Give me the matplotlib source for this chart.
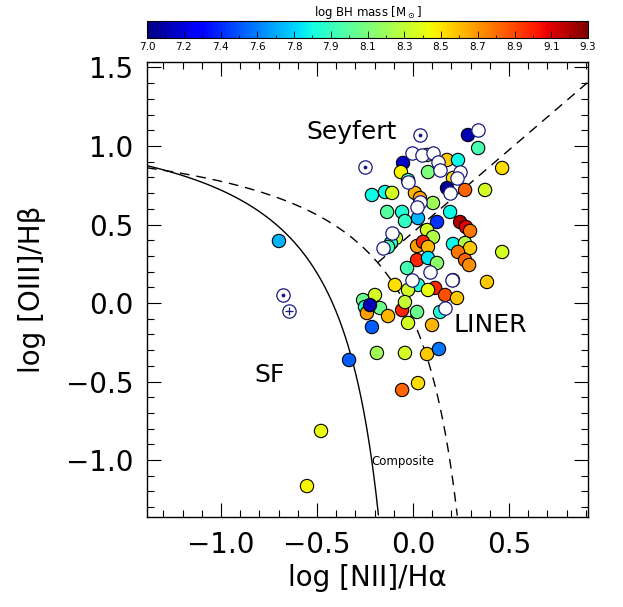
import numpy as np
import matplotlib
matplotlib.use("Agg")
import matplotlib.pyplot as plt
from matplotlib.ticker import MultipleLocator

# ---------------- data ----------------
# filled points: log [NII]/Ha, log [OIII]/Hb, log BH mass
fx = [-0.698, -0.333, -0.479, -0.552, 0.286, 0.339, 0.177, 0.234, 0.073, -0.052,
      -0.063, 0.078, 0.208, 0.464, 0.177, 0.271, 0.375, -0.026, -0.146, -0.214,
      -0.109, 0.010, 0.036, 0.104, -0.135, -0.057, -0.042, 0.026, 0.125, 0.193,
      0.245, 0.276, 0.297, 0.073, 0.104, -0.089, -0.115, -0.130, 0.021, 0.052,
      0.078, 0.208, 0.271, 0.297, 0.234, 0.464, 0.021, 0.078, 0.125, -0.031,
      0.271, 0.292, 0.385, -0.094, 0.026, -0.026, 0.115, 0.078, 0.208, 0.167,
      0.229, -0.260, -0.198, -0.250, -0.240, -0.172, -0.057, 0.021, -0.042, 0.141,
      -0.130, -0.214, -0.026, 0.099, -0.188, -0.042, 0.073, 0.135, -0.057, 0.026,
      -0.224]
fy = [0.395, -0.363, -0.815, -1.166, 1.070, 0.987, 0.911, 0.911, 0.943, 0.892,
      0.834, 0.834, 0.796, 0.860, 0.732, 0.720, 0.720, 0.783, 0.707, 0.688,
      0.701, 0.701, 0.669, 0.637, 0.580, 0.580, 0.522, 0.541, 0.516, 0.580,
      0.516, 0.484, 0.459, 0.465, 0.420, 0.414, 0.382, 0.357, 0.363, 0.389,
      0.357, 0.376, 0.382, 0.350, 0.325, 0.325, 0.274, 0.287, 0.255, 0.223,
      0.274, 0.242, 0.134, 0.115, 0.115, 0.083, 0.096, 0.083, 0.146, 0.051,
      0.032, 0.019, 0.051, -0.025, -0.064, -0.032, -0.045, -0.057, 0.006, -0.057,
      -0.083, -0.153, -0.127, -0.140, -0.318, -0.318, -0.325, -0.293, -0.554, -0.510,
      -0.013]
fm = [7.70, 7.50, 8.45, 8.50, 7.10, 8.00, 8.60, 7.85, 8.25, 7.15,
      8.50, 8.15, 8.55, 8.55, 7.05, 8.85, 8.40, 8.00, 7.85, 7.85,
      8.40, 8.65, 8.70, 8.25, 8.05, 7.90, 7.95, 7.70, 7.40, 7.85,
      9.20, 9.10, 8.80, 8.40, 8.30, 8.35, 7.90, 8.00, 8.70, 9.00,
      8.65, 7.85, 8.30, 8.60, 8.80, 8.40, 9.00, 7.80, 8.20, 8.00,
      8.85, 8.75, 8.60, 8.55, 7.90, 8.40, 9.00, 8.45, 8.40, 8.90,
      8.60, 8.10, 8.40, 7.90, 8.70, 8.10, 9.00, 8.10, 8.35, 7.90,
      8.65, 7.50, 8.40, 8.65, 8.25, 8.40, 8.60, 7.55, 8.85, 8.55,
      7.10]

# open circles (no BH mass)
ox = [0.339, -0.005, 0.047, 0.104, 0.130, 0.141, 0.245, 0.229, -0.026, 0.193,
      0.036, 0.021, -0.109, -0.156, 0.089, -0.005, 0.203, 0.167]
oy = [1.102, 0.955, 0.943, 0.955, 0.898, 0.847, 0.834, 0.796, 0.771, 0.701,
      0.643, 0.611, 0.446, 0.350, 0.197, 0.146, 0.146, -0.032]

# circles with a central dot, and one with a cross
dx = [0.036, -0.250, -0.677]
dy = [1.070, 0.866, 0.051]
px_ = [-0.646]
py_ = [-0.051]

cb_ticks = list(np.linspace(7.0, 9.3, 13))
cb_labels = ["7.0", "7.2", "7.4", "7.6", "7.8", "7.9", "8.1", "8.3", "8.5",
             "8.7", "8.9", "9.1", "9.3"]

# ---------------- figure ----------------
plt.rcParams['font.family'] = ['DejaVu Sans']
fig = plt.figure(figsize=(6.23, 6.07), dpi=100)
ax = fig.add_axes([147/623, 90/607, 441/623, 455/607])
xlim = (-1.385, 0.911)
ylim = (-1.363, 1.535)

# demarcation lines
xk = np.linspace(xlim[0], 0.0, 600)
yk = 0.61 / (xk - 0.05) + 1.3
m = yk >= ylim[0]
ax.plot(xk[m], yk[m], color='black', lw=1.0, zorder=1)

xw = np.linspace(xlim[0], 0.4, 800)
yw = 0.61 / (xw - 0.47) + 1.19
m = yw >= ylim[0]
ax.plot(xw[m], yw[m], color='black', lw=1.0, ls=(0, (7, 5)), zorder=1)

xs = np.linspace(-0.184, xlim[1], 100)
ax.plot(xs, 1.05 * xs + 0.45, color='black', lw=1.0, ls=(0, (7, 5)), zorder=1)

cmap = plt.get_cmap('jet')
msize = 92
edge = '#1a1a80'
sc = ax.scatter(fx, fy, c=fm, cmap=cmap, vmin=7.0, vmax=9.3, s=msize,
                edgecolors='black', linewidths=0.8, zorder=3)
ax.scatter(ox, oy, facecolors='white', edgecolors=edge, s=msize,
           linewidths=0.9, zorder=4)
ax.scatter(dx, dy, facecolors='white', edgecolors=edge, s=msize,
           linewidths=0.9, zorder=4)
ax.scatter(dx, dy, color=edge, s=3, zorder=5)
ax.scatter(px_, py_, facecolors='white', edgecolors=edge, s=msize,
           linewidths=0.9, zorder=4)
ax.scatter(px_, py_, marker='+', color=edge, s=40, linewidths=0.9, zorder=5)

ax.text(-0.32, 1.09, 'Seyfert', fontsize=18, ha='center', va='center')
ax.text(0.40, -0.14, 'LINER', fontsize=18, ha='center', va='center')
ax.text(-0.745, -0.46, 'SF', fontsize=18, ha='center', va='center')
ax.text(-0.215, -1.01, 'Composite', fontsize=8.5, ha='left', va='center')

ax.set_xlim(*xlim)
ax.set_ylim(*ylim)
ax.xaxis.set_minor_locator(MultipleLocator(0.1))
ax.yaxis.set_minor_locator(MultipleLocator(0.1))
ax.set_xticks([-1.0, -0.5, 0.0, 0.5])
ax.set_xticklabels(['\u22121.0', '\u22120.5', '0.0', '0.5'])
ax.set_yticks([-1.0, -0.5, 0.0, 0.5, 1.0, 1.5])
ax.set_yticklabels(['\u22121.0', '\u22120.5', '0.0', '0.5', '1.0', '1.5'])
ax.tick_params(which='both', direction='in', top=True, right=True,
               labelsize=20, pad=10, width=0.8, colors='black')
ax.tick_params(which='major', length=10)
ax.tick_params(which='minor', length=5)
for s in ax.spines.values():
    s.set_linewidth(1.0)
ax.set_xlabel('log [NII]/H\u03b1', fontsize=20, labelpad=4)
ax.set_ylabel('log [OIII]/H\u03b2', fontsize=20, labelpad=14)

# colorbar
cax = fig.add_axes([147/623, 569/607, 441/623, 17/607])
cb = fig.colorbar(sc, cax=cax, orientation='horizontal')
cb.set_ticks(cb_ticks)
cb.set_ticklabels(cb_labels)
cb.ax.xaxis.set_minor_locator(matplotlib.ticker.FixedLocator(
    np.linspace(7.0, 9.3, 25)))
cb.ax.tick_params(which='major', direction='in', length=5, width=0.6,
                  labelsize=7.5, pad=3)
cb.ax.tick_params(which='minor', direction='in', length=2.5, width=0.6)
cb.outline.set_linewidth(0.8)
cb.ax.set_title('log BH mass [M$_\\odot$]', fontsize=8.5, pad=2)

fig.savefig('out.png', dpi=100)
